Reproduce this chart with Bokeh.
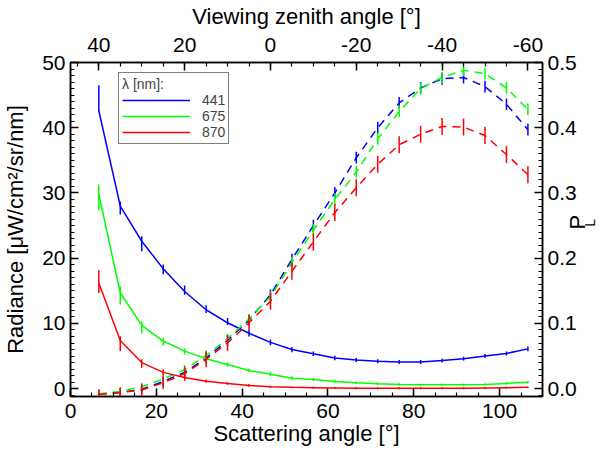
import math
from bokeh.plotting import figure
from bokeh.models import (Range1d, LinearAxis, SingleIntervalTicker, PrintfTickFormatter,
                          FixedTicker, Legend, LegendItem)
from bokeh.embed import file_html
from bokeh.resources import INLINE

FONT = "Liberation Sans"

# ---------------- data ----------------
vza = [40, 35, 30, 25, 20, 15, 10, 5, 0, -5, -10, -15, -20, -25, -30, -35, -40, -45, -50, -55, -60]
scat = [6.6, 11.6, 16.6, 21.6, 26.6, 31.6, 36.6, 41.6, 46.6, 51.6, 56.6, 61.6, 66.6, 71.6,
        76.6, 81.6, 86.6, 91.6, 96.6, 101.6, 106.6]
VZA0 = 46.6  # scattering angle = VZA0 - viewing zenith angle

wavelengths = ["441", "675", "870"]
colors = ["#0000ff", "#00ff00", "#ff0000"]

# model radiance (solid lines)
rad_441 = [42.6, 28.0, 22.6, 18.4, 14.9, 12.1, 10.1, 8.5, 7.1, 6.0, 5.35, 4.7, 4.4, 4.2, 4.1, 4.1, 4.3, 4.6, 5.0, 5.4, 6.1]
rad_675 = [29.8, 14.7, 9.7, 7.3, 5.75, 4.6, 3.7, 2.8, 2.2, 1.6, 1.4, 1.1, 0.9, 0.75, 0.65, 0.6, 0.6, 0.6, 0.65, 0.8, 1.0]
rad_870 = [16.2, 7.4, 4.0, 2.5, 1.7, 1.15, 0.8, 0.5, 0.3, 0.2, 0.15, 0.1, 0.05, 0.05, 0.05, 0.05, 0.05, 0.05, 0.1, 0.15, 0.2]

# measured radiance (error bars)
meas_441 = [44.5, 27.7, 22.2, 18.3, 15.1, 12.2, 10.3, 8.5, 7.1, 6.0, 5.35, 4.7, 4.4, 4.2, 4.1, 4.1, 4.3, 4.6, 5.0, 5.4, 6.1]
err_441 = [2.0, 1.0, 1.15, 0.75, 0.7, 0.6, 0.55, 0.5, 0.45, 0.4, 0.35, 0.35, 0.3, 0.3, 0.3, 0.3, 0.3, 0.3, 0.3, 0.3, 0.35]
meas_675 = [29.3, 14.3, 9.4, 7.2, 5.7, 4.6, 3.7, 2.8, 2.2, 1.6, 1.4, 1.1, 0.9, 0.75, 0.65, 0.6, 0.6, 0.6, 0.65, 0.8, 1.0]
err_675 = [2.0, 1.4, 0.95, 0.6, 0.45, 0.4, 0.35, 0.3, 0.3, 0.3, 0.25, 0.25, 0.2, 0.2, 0.2, 0.2, 0.2, 0.2, 0.2, 0.2, 0.2]
meas_870 = [16.4, 6.9, 3.85, 2.5, 1.7, 1.15, 0.8, 0.5, 0.3, 0.2, 0.15, 0.1, 0.05, 0.05, 0.05, 0.05, 0.05, 0.05, 0.1, 0.15, 0.2]
err_870 = [1.75, 1.15, 0.65, 0.45, 0.3, 0.25, 0.2, 0.2, 0.15, 0.15, 0.15, 0.15, 0.15, 0.15, 0.15, 0.15, 0.15, 0.15, 0.15, 0.15, 0.15]

# degree of linear polarization P_L (dashed lines + error bars)
pol_441 = [-0.008, -0.006, -0.001, 0.011, 0.025, 0.047, 0.074, 0.105, 0.144, 0.198, 0.250, 0.300, 0.354, 0.400, 0.438, 0.461, 0.475, 0.477, 0.463, 0.436, 0.397]
pol_675 = [-0.008, -0.004, 0.003, 0.015, 0.029, 0.051, 0.0765, 0.107, 0.141, 0.193, 0.243, 0.290, 0.332, 0.383, 0.425, 0.460, 0.477, 0.488, 0.483, 0.461, 0.428]
pol_870 = [-0.009, -0.006, -0.002, 0.009, 0.023, 0.045, 0.070, 0.101, 0.134, 0.180, 0.225, 0.270, 0.308, 0.344, 0.374, 0.390, 0.402, 0.401, 0.388, 0.359, 0.328]
perr_441 = [0.006, 0.006, 0.006, 0.007, 0.007, 0.008, 0.008, 0.008, 0.008, 0.009, 0.009, 0.009, 0.009, 0.009, 0.009, 0.009, 0.009, 0.009, 0.009, 0.009, 0.009]
perr_675 = [0.006, 0.006, 0.006, 0.007, 0.007, 0.008, 0.008, 0.008, 0.008, 0.009, 0.009, 0.009, 0.009, 0.009, 0.009, 0.009, 0.009, 0.009, 0.009, 0.009, 0.009]
perr_870 = [0.008, 0.008, 0.009, 0.010, 0.011, 0.012, 0.012, 0.012, 0.013, 0.013, 0.013, 0.013, 0.013, 0.013, 0.013, 0.013, 0.013, 0.013, 0.013, 0.013, 0.013]

RAD_RANGE = (-1.2, 50.0)
POL_RANGE = (-0.012, 0.5)
X_RANGE = (0.0, 110.0)

# ---------------- figure ----------------
p = figure(frame_width=472, frame_height=334,
           x_range=Range1d(*X_RANGE), y_range=Range1d(*RAD_RANGE),
           x_axis_type=None, y_axis_type=None,
           output_backend="svg", toolbar_location=None,
           min_border_left=68, min_border_right=0, min_border_top=0, min_border_bottom=0,
           background_fill_color="white", border_fill_color="white")
p.outline_line_color = "black"
p.outline_line_width = 1.5
p.grid.visible = False
p.extra_y_ranges = {"pol": Range1d(*POL_RANGE)}
p.extra_x_ranges = {"vza": Range1d(VZA0 - X_RANGE[0], VZA0 - X_RANGE[1])}


def style(ax):
    ax.axis_line_color = "black"
    ax.axis_line_width = 1.5
    ax.major_tick_in = 8
    ax.major_tick_out = 0
    ax.minor_tick_in = 4
    ax.minor_tick_out = 0
    ax.major_tick_line_color = "black"
    ax.minor_tick_line_color = "black"
    ax.major_tick_line_width = 1.5
    ax.minor_tick_line_width = 1.2
    ax.major_label_text_font = FONT
    ax.major_label_text_font_size = "21px"
    ax.major_label_text_color = "black"
    ax.axis_label_text_font = FONT
    ax.axis_label_text_font_size = "22px"
    ax.axis_label_text_font_style = "normal"
    ax.axis_label_text_color = "black"


left = LinearAxis(ticker=SingleIntervalTicker(interval=10, num_minor_ticks=10),
                  axis_label="Radiance [μW/cm²/sr/nm]")
style(left)
left.major_label_standoff = 5
left.axis_label_standoff = 11
p.add_layout(left, "left")

# right axis: P (main part of the P_L title)
right = LinearAxis(y_range_name="pol",
                   ticker=SingleIntervalTicker(interval=0.1, num_minor_ticks=10),
                   formatter=PrintfTickFormatter(format="%.1f"),
                   axis_label="P\u00a0\u00a0\u00a0")
style(right)
right.major_label_standoff = 5
right.axis_label_standoff = -2
right.axis_label_orientation = math.pi / 2
p.add_layout(right, "right")

# subscript L of the P_L title, as the label of a bare extra axis
sub = LinearAxis(y_range_name="pol", ticker=FixedTicker(ticks=[]), axis_label="\u2009L")
sub.axis_line_color = None
sub.major_tick_line_color = None
sub.minor_tick_line_color = None
sub.axis_label_text_font = FONT
sub.axis_label_text_font_size = "14px"
sub.axis_label_text_font_style = "normal"
sub.axis_label_text_color = "black"
sub.axis_label_standoff = -16
sub.axis_label_orientation = math.pi / 2
p.add_layout(sub, "right")

bottom = LinearAxis(ticker=SingleIntervalTicker(interval=20, num_minor_ticks=4),
                    axis_label="Scattering angle [°]")
style(bottom)
bottom.major_label_standoff = 7
bottom.axis_label_standoff = 0
p.add_layout(bottom, "below")

top = LinearAxis(x_range_name="vza",
                 ticker=SingleIntervalTicker(interval=20, num_minor_ticks=4),
                 formatter=PrintfTickFormatter(format="%d"),
                 axis_label="Viewing zenith angle [°]")
style(top)
top.major_label_standoff = 11
top.axis_label_standoff = 6
p.add_layout(top, "above")

rads = [rad_441, rad_675, rad_870]
meas = [meas_441, meas_675, meas_870]
errs = [err_441, err_675, err_870]
pols = [pol_441, pol_675, pol_870]
perrs = [perr_441, perr_675, perr_870]

legend_items = []
for wl, c, r, m, e, pl, pe in zip(wavelengths, colors, rads, meas, errs, pols, perrs):
    lr = p.line(scat, r, line_color=c, line_width=1.5)
    p.segment(x0=scat, x1=scat,
              y0=[a - b for a, b in zip(m, e)], y1=[a + b for a, b in zip(m, e)],
              line_color=c, line_width=1.5)
    p.line(scat, pl, line_color=c, line_width=1.5, line_dash="8 6", y_range_name="pol")
    p.segment(x0=scat, x1=scat,
              y0=[a - b for a, b in zip(pl, pe)], y1=[a + b for a, b in zip(pl, pe)],
              line_color=c, line_width=1.5, y_range_name="pol")
    legend_items.append(LegendItem(label=wl, renderers=[lr]))

legend = Legend(items=legend_items, title="λ [nm]:", location=(48, 252))
legend.border_line_color = "black"
legend.border_line_width = 1.5
legend.background_fill_color = "white"
legend.background_fill_alpha = 1.0
legend.padding = 3
legend.margin = 0
legend.spacing = -3
legend.label_height = 12
legend.glyph_height = 12
legend.glyph_width = 68
legend.label_standoff = 12
legend.label_text_font = FONT
legend.label_text_font_size = "14px"
legend.title_text_font = FONT
legend.title_text_font_size = "14px"
legend.title_text_font_style = "normal"
legend.title_standoff = 0
p.add_layout(legend)

open("out.html", "w").write(file_html(p, INLINE))
